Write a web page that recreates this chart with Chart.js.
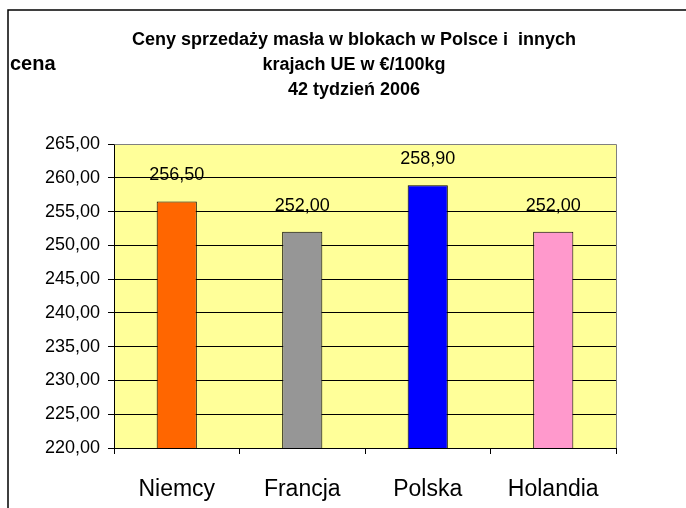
<!DOCTYPE html>
<html>
<head>
<meta charset="utf-8">
<script src="https://cdn.jsdelivr.net/npm/chart.js@4.4.0/dist/chart.umd.min.js"></script>
<style>
  html, body { margin: 0; padding: 0; background: #fff; }
  #wrap { width: 686px; height: 508px; }
</style>
</head>
<body>
<div id="wrap"><canvas id="chart" width="686" height="508"></canvas></div>
<script>
// dane
const kraje = ['Niemcy', 'Francja', 'Polska', 'Holandia'];
const ceny = [256.5, 252.0, 258.9, 252.0];
const kolory = ['#FF6600', '#969696', '#0000FF', '#FF99CC'];
const tytul = ['Ceny sprzedaży masła w blokach w Polsce i  innych', 'krajach UE w €/100kg', '42 tydzień 2006'];
const osY = 'cena';
const yMin = 220, yMax = 265, yKrok = 5;

const fmt = v => v.toFixed(2).replace('.', ',');
const FONT = '"Liberation Sans", Arial, sans-serif';

// tlo, ramka, tytul i etykiety
const ramka = {
  id: 'ramka',
  beforeDraw(chart) {
    const { ctx, chartArea: a } = chart;
    ctx.save();
    ctx.fillStyle = '#fff';
    ctx.fillRect(0, 0, chart.width, chart.height);
    ctx.fillStyle = '#FFFF99';
    ctx.fillRect(a.left, a.top, a.right - a.left, a.bottom - a.top);
    // ramka wykresu
    ctx.strokeStyle = '#000';
    ctx.lineWidth = 1.5;
    ctx.beginPath();
    ctx.moveTo(8, chart.height);
    ctx.lineTo(8, 10);
    ctx.lineTo(chart.width, 10);
    ctx.stroke();
    // tytul
    ctx.fillStyle = '#000';
    ctx.textAlign = 'center';
    ctx.textBaseline = 'alphabetic';
    ctx.font = 'bold 18px ' + FONT;
    const yy = [45, 70, 95];
    tytul.forEach((t, i) => ctx.fillText(t, 354, yy[i]));
    ctx.textAlign = 'left';
    ctx.font = 'bold 20px ' + FONT;
    ctx.fillText(osY, 10, 70);
    ctx.restore();
  },
  afterDatasetsDraw(chart) {
    const { ctx, chartArea: a } = chart;
    ctx.save();
    ctx.strokeStyle = '#808080';
    ctx.lineWidth = 1;
    ctx.beginPath();
    ctx.moveTo(Math.round(a.left) + 0.5, Math.round(a.top) + 0.5);
    ctx.lineTo(Math.round(a.right) + 0.5, Math.round(a.top) + 0.5);
    ctx.lineTo(Math.round(a.right) + 0.5, Math.round(a.bottom));
    ctx.stroke();
    const meta = chart.getDatasetMeta(0);
    ctx.fillStyle = '#000';
    ctx.font = '18px ' + FONT;
    ctx.textAlign = 'center';
    ctx.textBaseline = 'alphabetic';
    meta.data.forEach((bar, i) => {
      ctx.fillText(fmt(ceny[i]), bar.x, bar.y - 21);
    });
    ctx.restore();
  }
};

new Chart(document.getElementById('chart'), {
  type: 'bar',
  data: {
    labels: kraje,
    datasets: [{
      data: ceny,
      backgroundColor: kolory,
      borderColor: '#000',
      borderWidth: 1,
      borderSkipped: false,
      categoryPercentage: 1,
      barPercentage: 0.32
    }]
  },
  options: {
    responsive: false,
    animation: false,
    layout: { padding: { top: 144, right: 70, left: 0, bottom: 0 } },
    plugins: {
      legend: { display: false },
      title: { display: false },
      tooltip: { enabled: false }
    },
    scales: {
      x: {
        afterFit: s => { s.height = 60; },
        grid: { drawOnChartArea: false, offset: true, tickLength: 6, color: '#000', tickColor: '#000' },
        border: { color: '#000' },
        ticks: { color: '#000', padding: 22, font: { family: FONT, size: 23 } }
      },
      y: {
        min: yMin,
        max: yMax,
        afterFit: s => { s.width = 114; },
        grid: {
          color: c => (c.tick && c.tick.value === yMax ? '#808080' : '#000'),
          tickLength: 6,
          tickColor: '#000'
        },
        border: { color: '#000' },
        ticks: {
          stepSize: yKrok,
          color: '#000',
          padding: 8,
          font: { family: FONT, size: 18 },
          callback: v => fmt(v)
        }
      }
    }
  },
  plugins: [ramka]
});
</script>
</body>
</html>
